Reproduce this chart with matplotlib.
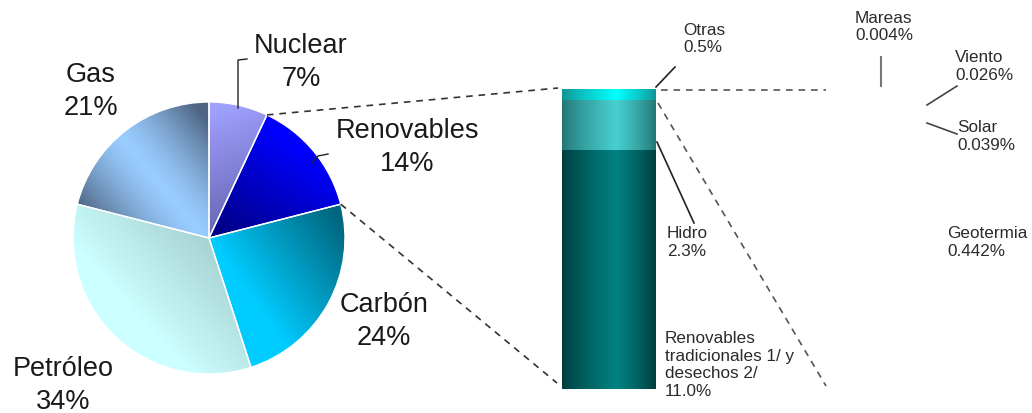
import numpy as np
import matplotlib
matplotlib.use("Agg")
import matplotlib.pyplot as plt
from matplotlib.colors import to_rgb

plt.rcParams['font.family'] = ['Liberation Sans', 'DejaVu Sans']

# datos: consumo mundial de energía primaria
fuentes = ['Nuclear', 'Renovables', 'Carbón', 'Petróleo', 'Gas']
porcentajes = [7, 14, 24, 34, 21]

renov_nombres = ['Renovables\ntradicionales 1/ y\ndesechos 2/', 'Hidro', 'Otras']
renov_valores = [11.0, 2.3, 0.5]

otras_nombres = ['Mareas', 'Viento', 'Solar', 'Geotermia']
otras_valores = [0.004, 0.026, 0.039, 0.442]

# colores (claro, oscuro, punto claro, punto oscuro, espejo)
grad_pie = [
    ('#a0a0ff', '#6464b0', (0.05, 0.95), (0.35, 0.1), False),
    ('#0000ff', '#000088', (0.55, 0.75), (0.1, 0.05), False),
    ('#00ccff', '#00667f', (0.25, -0.35), (0.95, 0.15), False),
    ('#ccffff', '#a8d4d4', (-0.55, -0.55), (0.0, -0.05), False),
    ('#99ccff', '#4e6482', (-0.1, 0.98), (-0.98, 0.25), True),
]
grad_barra = [('#003c3c', '#008282'), ('#247474', '#48d0d0'), ('#149090', '#00ffff')]

W, H = 1032, 413
fig = plt.figure(figsize=(W / 100, H / 100), dpi=100)

# --- pastel ---
cx, cy, r = 209, 238, 136
ax_p = fig.add_axes([(cx - r) / W, (H - cy - r) / H, 2 * r / W, 2 * r / H])
wedges, _ = ax_p.pie(porcentajes, startangle=90, counterclock=False,
                     wedgeprops=dict(linewidth=1, edgecolor='white'))
ax_p.set_xlim(-1, 1)
ax_p.set_ylim(-1, 1)

gx, gy = np.meshgrid(np.linspace(-1, 1, 300), np.linspace(-1, 1, 300))
for w, (c1, c2, a, b, espejo) in zip(wedges, grad_pie):
    a, b = np.array(a), np.array(b)
    d = b - a
    t = ((gx - a[0]) * d[0] + (gy - a[1]) * d[1]) / (d @ d)
    if espejo:
        t = np.abs(2 * t - 1) ** 1.4
    t = np.clip(t, 0, 1)[..., None]
    img = np.array(to_rgb(c1)) * (1 - t) + np.array(to_rgb(c2)) * t
    im = ax_p.imshow(img, extent=(-1, 1, -1, 1), origin='lower', zorder=2,
                     interpolation='bilinear')
    im.set_clip_path(w)
    w.set_facecolor('none')
    w.set_zorder(3)

# --- barra de renovables ---
ax_b = fig.add_axes([562 / W, (H - 389) / H, 94 / W, 300 / H])
barras = ax_b.bar(0, renov_valores, width=1, bottom=np.cumsum([0] + renov_valores[:-1]),
                  color='none', linewidth=0)
ax_b.set_xlim(-0.5, 0.5)
ax_b.set_ylim(0, sum(renov_valores))
ax_b.axis('off')
xs = np.linspace(0, 1, 200)
perfil = np.where(xs < 0.58, xs / 0.58, (1 - xs) / 0.42) ** 0.8
for rect, (c1, c2) in zip(barras, grad_barra):
    fila = np.array(to_rgb(c1)) * (1 - perfil[:, None]) + np.array(to_rgb(c2)) * perfil[:, None]
    x0, y0 = rect.get_x(), rect.get_y()
    im = ax_b.imshow(fila[None, :, :], extent=(x0, x0 + rect.get_width(), y0, y0 + rect.get_height()),
                     aspect='auto', interpolation='bilinear')
    im.set_clip_path(rect)

# --- capa de anotaciones (coordenadas en píxeles) ---
ax = fig.add_axes([0, 0, 1, 1])
ax.set_xlim(0, W)
ax.set_ylim(H, 0)
ax.axis('off')

# líneas punteadas desde el pastel a la barra
bordes = 90 - 360 * np.cumsum(porcentajes) / 100
p1 = (cx + r * np.cos(np.radians(bordes[0])), cy - r * np.sin(np.radians(bordes[0])))
p2 = (cx + r * np.cos(np.radians(bordes[1])), cy - r * np.sin(np.radians(bordes[1])))
ax.plot([p1[0], 558], [p1[1], 88], ls=(0, (4, 3.5)), color='#333333', lw=1.2)
ax.plot([p2[0], 557], [p2[1], 383], ls=(0, (4, 3.5)), color='#333333', lw=1.2)
ax.plot([661, 826], [90, 90], ls=(0, (4, 3.5)), color='#555555', lw=1.2)
ax.plot([658, 826], [103, 386], ls=(0, (4, 3.5)), color='#555555', lw=1.2)

# líneas guía
ax.plot([238, 238, 247], [108, 60, 59], color='#222222', lw=1)
ax.plot([312, 318, 328], [163, 156, 154], color='#222222', lw=1)
ax.plot([656, 675], [87, 67], color='#222222', lw=1.2)
ax.plot([657, 694], [142, 223], color='#222222', lw=1.2)
ax.plot([881, 881], [57, 86], color='#777777', lw=1.5)
ax.plot([927, 957], [105, 86], color='#444444', lw=1.2)
ax.plot([927, 957], [123, 134], color='#444444', lw=1.2)

# etiquetas del pastel
pos_pie = [(301, 53), (407, 138), (384, 312), (63, 376), (91, 82)]
for nombre, v, (x, y) in zip(fuentes, porcentajes, pos_pie):
    ax.text(x, y, nombre, ha='center', va='baseline', fontsize=19.5, color='#1a1a1a')
    ax.text(x, y + 33, f'{v}%', ha='center', va='baseline', fontsize=19.5, color='#1a1a1a')

# etiquetas pequeñas
pos_renov = [(665, 343), (667, 238), (683, 35)]
pos_otras = [(855, 23), (955, 62), (957, 132), (947, 238)]
for nombre, v, (x, y) in zip(renov_nombres + otras_nombres, renov_valores + otras_valores,
                             pos_renov + pos_otras):
    lineas = nombre.split('\n') + [f'{v}%']
    for i, linea in enumerate(lineas):
        ax.text(x, y + 17.5 * i, linea, ha='left', va='baseline', fontsize=12.3, color='#2b2b2b')

fig.savefig('out.png', dpi=100)
